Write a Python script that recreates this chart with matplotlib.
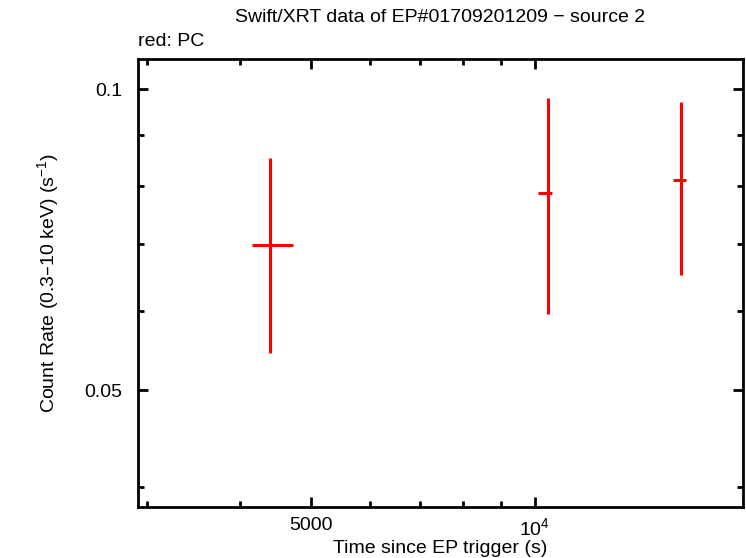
import matplotlib
matplotlib.use("Agg")
import matplotlib.pyplot as plt
from matplotlib.ticker import FixedLocator, NullFormatter, FuncFormatter

plt.rcParams['font.family'] = ['Liberation Sans', 'DejaVu Sans']
plt.rcParams['mathtext.default'] = 'regular'

# PC mode data
t_mid = [4390, 10412, 15740]
t_lo = [4159, 10116, 15390]
t_hi = [4729, 10566, 16010]
rate = [0.06982, 0.0787, 0.0811]
rate_lo = [0.05445, 0.05952, 0.06522]
rate_hi = [0.08537, 0.09802, 0.09712]

xerr = [[m - l for m, l in zip(t_mid, t_lo)], [h - m for m, h in zip(t_mid, t_hi)]]
yerr = [[m - l for m, l in zip(rate, rate_lo)], [h - m for m, h in zip(rate, rate_hi)]]

fig = plt.figure(figsize=(7.46, 5.58), dpi=100)
ax = fig.add_axes([138 / 746, 1 - 507 / 558, (743 - 138) / 746, (507 - 59) / 558])

ax.errorbar(t_mid, rate, xerr=xerr, yerr=yerr, fmt='none', ecolor='red',
            elinewidth=2.2, capsize=0)

ax.set_xscale('log')
ax.set_yscale('log')
ax.set_xlim(2918, 19100)
ax.set_ylim(0.0382, 0.1072)

ax.xaxis.set_major_locator(FixedLocator([5000, 10000]))
ax.xaxis.set_major_formatter(FuncFormatter(lambda v, p: '5000' if v == 5000 else '10$^4$'))
ax.xaxis.set_minor_locator(FixedLocator([3000, 4000, 6000, 7000, 8000, 9000]))
ax.xaxis.set_minor_formatter(NullFormatter())

ax.yaxis.set_major_locator(FixedLocator([0.05, 0.1]))
ax.yaxis.set_major_formatter(FuncFormatter(lambda v, p: '0.05' if v == 0.05 else '0.1'))
ax.yaxis.set_minor_locator(FixedLocator([0.04, 0.06, 0.07, 0.08, 0.09]))
ax.yaxis.set_minor_formatter(NullFormatter())

ax.tick_params(which='both', direction='in', top=True, right=True, width=2, labelsize=14)
ax.tick_params(which='major', length=7, pad=7)
ax.tick_params(axis='y', which='major', pad=11)
ax.tick_params(which='minor', length=4)
for s in ax.spines.values():
    s.set_linewidth(2)

ax.set_xlabel('Time since EP trigger (s)', fontsize=14, labelpad=1)
ax.set_ylabel('Count Rate (0.3\u201310 keV) (s$^{-1}$)', fontsize=14, labelpad=17)
fig.text(440 / 746, 1 - 18 / 558, 'Swift/XRT data of EP#01709201209 \u2212 source 2',
         ha='center', va='center', fontsize=14)
fig.text(138 / 746, 1 - 42 / 558, 'red: PC', ha='left', va='center', fontsize=14)

fig.savefig('out.png', dpi=100)
